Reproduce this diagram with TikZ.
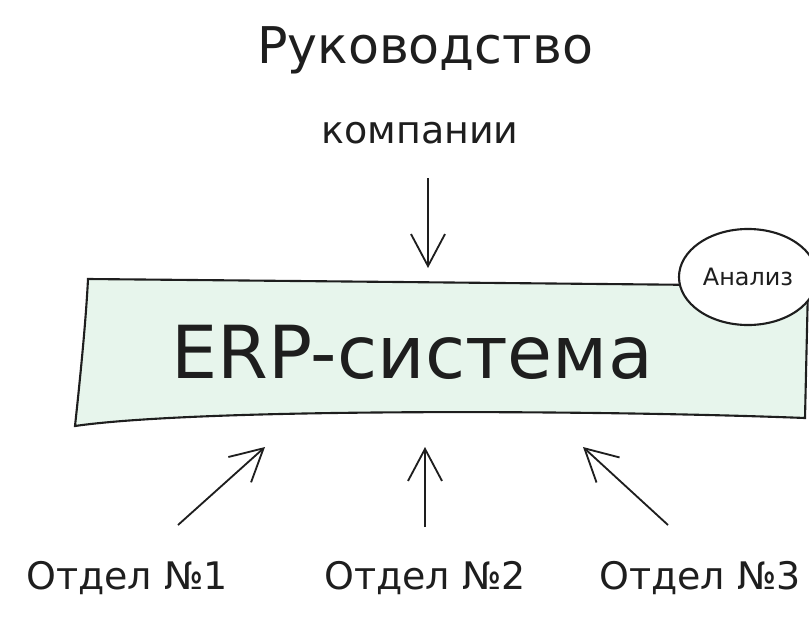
\documentclass[tikz,border=0pt]{standalone}
\usepackage{fontspec}
\setmainfont{DejaVu Sans}
\definecolor{erpgreen}{RGB}{231, 245, 236}
\definecolor{inkgray}{RGB}{30, 30, 30}
\usetikzlibrary{arrows.meta, calc, shapes.geometric}

\begin{document}
\begin{tikzpicture}[x=0.025cm, y=-0.025cm, line width=1.5pt, draw=inkgray, text=inkgray,
    arr/.style={-{Straight Barb[length=8mm, width=8.5mm]}, line width=1.3pt}]
    \useasboundingbox (0,0) rectangle (809,619);
    % top
    \node[font=\fontsize{36}{40}\selectfont] (ruk) at (425,50) {Руководство};
    \node[font=\fontsize{27}{30}\selectfont] (komp) at (420,133) {компании};
    % system box
    \draw[fill=erpgreen] (88,279) .. controls (300,281) and (600,284) .. (808,286)
        -- (805,418) .. controls (600,410) and (200,408) .. (75,426)
        .. controls (80,380) and (86,320) .. cycle;
    \node[font=\fontsize{52}{56}\selectfont] (erp) at (412,352) {ERP-система};
    \node[draw, ellipse, fill=white, minimum width=3.45cm, minimum height=2.4cm, inner sep=0,
        font=\fontsize{17}{20}\selectfont] (analiz) at (748,277) {Анализ};
    % departments
    \node[font=\fontsize{27}{30}\selectfont] (otdel1) at (127,578) {Отдел №1};
    \node[font=\fontsize{27}{30}\selectfont] (otdel2) at (425,578) {Отдел №2};
    \node[font=\fontsize{27}{30}\selectfont] (otdel3) at (700,578) {Отдел №3};
    % arrows
    \draw[arr] ($(komp)+(8,45)$) -- ($(erp)+(16,-84)$);
    \draw[arr] ($(otdel1)+(51,-53)$) -- ($(erp)+(-147,95)$);
    \draw[arr] ($(otdel2)+(0,-51)$) -- ($(erp)+(13,95)$);
    \draw[arr] ($(otdel3)+(-32,-53)$) -- ($(erp)+(171,95)$);
\end{tikzpicture}
\end{document}
